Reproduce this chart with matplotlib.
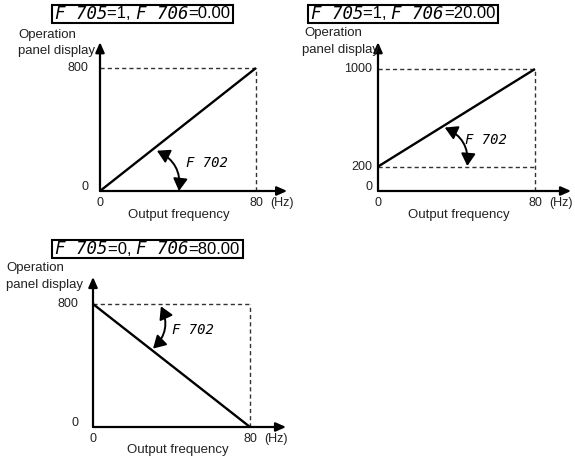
import matplotlib
matplotlib.use("Agg")
import matplotlib.pyplot as plt
from matplotlib.transforms import IdentityTransform
from matplotlib.patches import Rectangle

# ---- data ----
freq = [0, 80]
disp1 = [0, 800]
disp2 = [200, 1000]
disp3 = [800, 0]
yticks1 = [0, 800]
yticks2 = [0, 200, 1000]
yticks3 = [0, 800]
f705 = ["1", "1", "0"]
f706 = ["0.00", "20.00", "80.00"]
xlabel = "Output frequency"
ylabel = ["Operation", "panel display"]
unit = "(Hz)"
param = "F 702"

W, H = 575, 458
fig = plt.figure(figsize=(W / 100, H / 100), dpi=100)
fig.patch.set_facecolor("white")
FONT = "Liberation Sans"
TXT = "#222222"

def px_axes(left, right, top, bottom):
    return fig.add_axes([left / W, (H - bottom) / H, (right - left) / W, (bottom - top) / H])

def panel(ax, disp, ymax, yticks, ygap, top_frac, xend_frac, arc, lab):
    ax.set_xlim(0, 80)
    ax.set_ylim(0, ymax)
    ax.axis("off")
    # axes arrows
    for end in [(0, top_frac), (xend_frac, 0)]:
        ax.annotate("", xy=end, xytext=(0, 0), xycoords="axes fraction",
                    arrowprops=dict(arrowstyle="-|>,head_length=0.5,head_width=0.22",
                                    mutation_scale=12, lw=1.6, color="black",
                                    shrinkA=0, shrinkB=0), annotation_clip=False)
    # dashed guides
    dash = dict(color="#333333", lw=1.0, ls=(0, (3, 2.2)), clip_on=False)
    for v in yticks:
        if v != 0:
            ax.plot([0, 80], [v, v], **dash)
    ax.plot([80, 80], [0, max(yticks)], **dash)
    # main line
    ax.plot(freq, disp, color="black", lw=1.7, solid_capstyle="butt", clip_on=False)
    # y tick labels
    for v in yticks:
        dy = 4 if v == 0 else 0
        ax.annotate(str(v), xy=(0, v), xytext=(-ygap, dy), textcoords="offset pixels",
                    ha="right", va="center", fontsize=9, family=FONT, color=TXT,
                    annotation_clip=False)
    # x tick labels
    for v in freq:
        ax.annotate(str(v), xy=(v, 0), xytext=(0, -12), textcoords="offset pixels",
                    ha="center", va="center", fontsize=9, family=FONT, color=TXT,
                    annotation_clip=False)
    ax.annotate(unit, xy=(80, 0), xytext=(14, -12), textcoords="offset pixels",
                ha="left", va="center", fontsize=9, family=FONT, color=TXT,
                annotation_clip=False)
    # angle arc
    (x1, y1), (x2, y2) = arc
    ax.annotate("", xy=(x2, y2), xytext=(x1, y1),
                arrowprops=dict(arrowstyle="<|-|>,head_length=0.62,head_width=0.36",
                                mutation_scale=12, lw=1.4, color="black",
                                shrinkA=0, shrinkB=0, connectionstyle="arc3,rad=-0.35"),
                annotation_clip=False)
    ax.text(lab[0], lab[1], param, fontsize=10, family="DejaVu Sans Mono",
            style="oblique", color="black", ha="left", va="center")

def fig_text(x, y, s, **kw):
    return fig.text(x, H - y, s, transform=IdentityTransform(), **kw)

def title_box(cx, cy, a, b):
    parts = [("F 705", True), ("=" + a + ", ", False), ("F 706", True), ("=" + b, False)]
    r = fig.canvas.get_renderer()
    ts = []
    for s, led in parts:
        if led:
            t = fig_text(0, cy, s, fontsize=12.5, family="DejaVu Sans Mono", style="oblique",
                         color="black", va="center", ha="left")
        else:
            t = fig_text(0, cy, s, fontsize=12, family=FONT, color="black",
                         va="center", ha="left")
        ts.append(t)
    widths = [t.get_window_extent(r).width for t in ts]
    total = sum(widths)
    x = cx - total / 2
    for t, w in zip(ts, widths):
        t.set_position((x, H - cy))
        x += w
    pad = 3
    rect = Rectangle((cx - total / 2 - pad, H - cy - 9), total + 2 * pad, 18,
                     transform=IdentityTransform(), fill=False, ec="black", lw=1.5)
    fig.patches.append(rect)

# Panel 1
ax1 = px_axes(100, 256, 68, 191)
panel(ax1, disp1, 800, yticks1, 12, 1.21, 1.2, [(29.2, 262), (40.5, 0)], (44, 182))
# Panel 2
ax2 = px_axes(378, 535, 69, 191)
panel(ax2, disp2, 1000, yticks2, 6, 1.22, 1.23, [(34, 520), (45.5, 205)], (44.5, 418))
# Panel 3
ax3 = px_axes(93, 250, 304, 427)
panel(ax3, disp3, 800, yticks3, 15, 1.22, 1.23, [(34.6, 785), (30.6, 510)], (40.5, 631))

# axis titles
for (ox, oy, ys) in [(179, 215, (47, 35, 57, 51)), (459, 215, (333, 33, 340, 50)),
                     (178, 450, (35, 268, 44, 285))]:
    fig_text(ox, oy, xlabel, fontsize=9.5, family=FONT, color=TXT, ha="center", va="center")
    fig_text(ys[0], ys[1], ylabel[0], fontsize=9.5, family=FONT, color=TXT, ha="center", va="center")
    fig_text(ys[2], ys[3], ylabel[1], fontsize=9.5, family=FONT, color=TXT, ha="center", va="center")

title_box(142.5, 14, f705[0], f706[0])
title_box(403, 14, f705[1], f706[1])
title_box(147.5, 249, f705[2], f706[2])

fig.savefig("out.png", dpi=100)
